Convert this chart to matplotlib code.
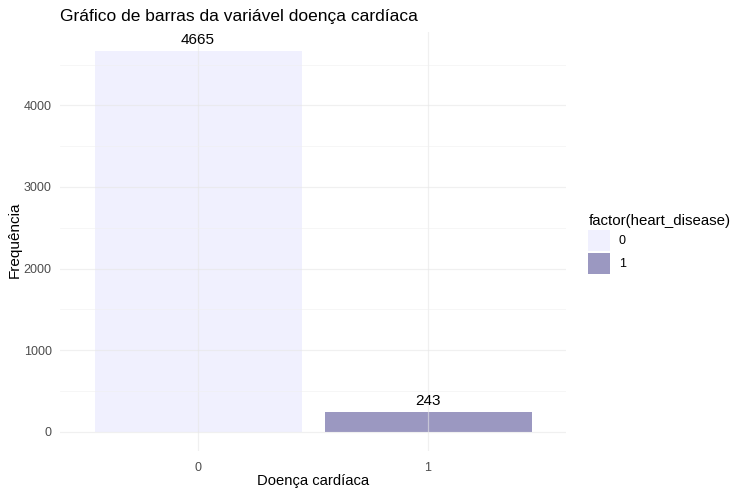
import matplotlib
matplotlib.use("Agg")
import matplotlib.pyplot as plt
from matplotlib.patches import Patch

plt.rcParams['font.family'] = ['Liberation Sans', 'DejaVu Sans']

categories = ["0", "1"]
counts = [4665, 243]
colors = ["#F0F0FE", "#9B98C1"]
title = "Gráfico de barras da variável doença cardíaca"
xlabel = "Doença cardíaca"
ylabel = "Frequência"
legend_title = "factor(heart_disease)"
yticks = [0, 1000, 2000, 3000, 4000]
yminor = [500, 1500, 2500, 3500, 4500]

W, H = 744, 496
fig = plt.figure(figsize=(W/100, H/100), dpi=100)
ax = fig.add_axes([60/W, 1-451/H, (566-60)/W, (451-32)/H])

x = list(range(len(categories)))
ax.bar(x, counts, width=0.9, color=colors, zorder=1)
for xi, c in zip(x, counts):
    ax.text(xi, c + 50, str(c), ha='center', va='bottom', fontsize=11, color='black', zorder=3)

ymax = max(counts)
pad = ymax * 0.05
ax.set_ylim(-pad, ymax + pad)
ax.set_xlim(-0.6, len(categories) - 0.4)
ax.set_xticks(x)
ax.set_xticklabels(categories)
ax.set_yticks(yticks)
ax.set_yticks(yminor, minor=True)

for spine in ax.spines.values():
    spine.set_visible(False)
ax.tick_params(axis='both', which='both', length=0, labelsize=9, colors='#4D4D4D')
ax.tick_params(axis='x', pad=8)
ax.tick_params(axis='y', pad=6)
ax.grid(True, which='major', color='#E6E6E6', linewidth=0.9, zorder=2, alpha=0.6)
ax.grid(True, which='minor', axis='y', color='#EFEFEF', linewidth=0.6, zorder=2, alpha=0.6)
ax.set_axisbelow(False)

ax.set_xlabel(xlabel, fontsize=10.6, color='black')
ax.xaxis.set_label_coords(0.5, (451-481)/419)
ax.xaxis.label.set_va('center')
ax.set_ylabel(ylabel, fontsize=11, color='black')
ax.yaxis.set_label_coords((15-60)/506, (451-240)/419)
ax.yaxis.label.set_va('center')
fig.text(60/W, 1-17/H, title, fontsize=12.5, ha='left', va='center', color='black')

handles = [Patch(facecolor=c, edgecolor='none') for c in colors]
leg = fig.legend(handles, categories, title=legend_title, loc='upper left',
                 bbox_to_anchor=(577/W, 1-203/H), frameon=False, fontsize=9,
                 title_fontsize=10.8, handlelength=1.7, handleheight=2.2,
                 handletextpad=0.75, labelspacing=0.15, alignment='left',
                 borderpad=0.4)

fig.savefig("out.png", dpi=100)
